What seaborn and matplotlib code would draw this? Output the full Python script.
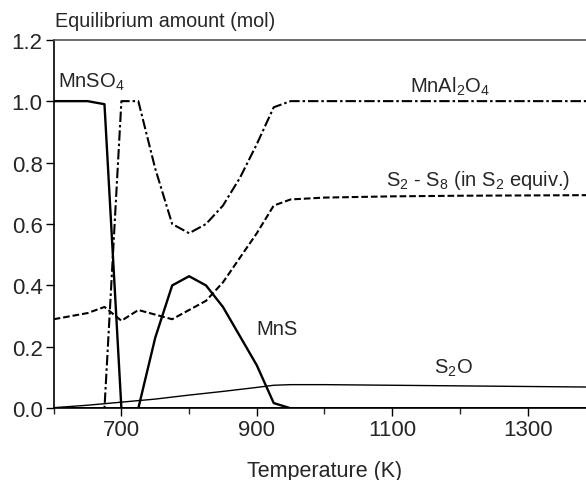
import matplotlib
matplotlib.use("Agg")
import matplotlib.pyplot as plt
import seaborn as sns
import pandas as pd
from matplotlib.ticker import MultipleLocator

# ---- data ----
T_mnso4 = [600, 650, 675, 700, 1400]
mnso4 = [1.0, 1.0, 0.99, 0.0, 0.0]

T_mnal2o4 = [600, 675, 700, 725, 750, 775, 800, 825, 850, 875, 900, 925, 950, 1000, 1100, 1200, 1300, 1400]
mnal2o4 = [0.0, 0.0, 1.0, 1.0, 0.78, 0.60, 0.57, 0.60, 0.66, 0.75, 0.86, 0.98, 1.0, 1.0, 1.0, 1.0, 1.0, 1.0]

T_s2 = [600, 625, 650, 675, 700, 725, 750, 775, 800, 825, 850, 875, 900, 925, 950, 1000, 1100, 1200, 1300, 1400]
s2 = [0.29, 0.30, 0.31, 0.33, 0.285, 0.32, 0.305, 0.29, 0.32, 0.35, 0.41, 0.49, 0.57, 0.66, 0.68, 0.686, 0.69, 0.692, 0.693, 0.694]

T_mns = [600, 725, 750, 775, 800, 825, 850, 875, 900, 925, 950, 1400]
mns = [0.0, 0.0, 0.23, 0.40, 0.43, 0.40, 0.33, 0.235, 0.14, 0.017, 0.0, 0.0]

T_s2o = [600, 650, 700, 750, 800, 850, 900, 925, 950, 1000, 1100, 1200, 1300, 1400]
s2o = [0.002, 0.01, 0.02, 0.03, 0.043, 0.055, 0.068, 0.075, 0.077, 0.077, 0.075, 0.073, 0.071, 0.069]

x_major = [700, 900, 1100, 1300]
y_ticks = [0.0, 0.2, 0.4, 0.6, 0.8, 1.0, 1.2]

sns.set_style("ticks")
plt.rcParams['font.family'] = ['Liberation Sans', 'DejaVu Sans']
plt.rcParams['mathtext.fontset'] = 'custom'
plt.rcParams['mathtext.rm'] = 'Liberation Sans'

fig = plt.figure(figsize=(5.86, 4.81), dpi=100)
W, H = 586, 481
x0, x1 = 53.7, 53.7 + 800 * 0.677
ytop, ybot = 40.7, 409.3
ax = fig.add_axes([x0 / W, (H - ybot) / H, (x1 - x0) / W, (ybot - ytop) / H])

def draw(T, v, ls, lw):
    df = pd.DataFrame({"T": T, "v": v})
    sns.lineplot(data=df, x="T", y="v", ax=ax, color="black", linestyle=ls, linewidth=lw,
                 errorbar=None, sort=False)

draw(T_s2o, s2o, "-", 1.0)
draw(T_mns, mns, "-", 1.7)
draw(T_s2, s2, (0, (3.2, 1.4)), 1.5)
draw(T_mnal2o4, mnal2o4, (0, (5, 1.4, 1.2, 1.4)), 1.5)
draw(T_mnso4, mnso4, "-", 1.7)

ax.set_xlim(600, 1400)
ax.set_ylim(0, 1.2)
ax.set_xticks(x_major)
ax.xaxis.set_minor_locator(MultipleLocator(100))
ax.set_yticks(y_ticks)
ax.set_yticklabels([f"{t:.1f}" for t in y_ticks])
ax.tick_params(axis="both", which="major", labelsize=16, length=6, width=1, color="black", pad=2)
ax.tick_params(axis="x", which="minor", length=4, width=1)
ax.set_xlabel("Temperature (K)", fontsize=15.5, labelpad=14)
ax.set_ylabel("")
for s in ["left", "bottom"]:
    ax.spines[s].set_color("black")
    ax.spines[s].set_linewidth(1.2)
ax.spines["top"].set_color("#555555")
ax.spines["top"].set_linewidth(1.2)
ax.spines["right"].set_visible(False)

fig.text(55 / W, (H - 27) / H, "Equilibrium amount (mol)", fontsize=14.2, ha="left", va="baseline")

lab = dict(fontsize=14.5, ha="left", va="baseline")
ax.text(606.8, 1.048, r"MnSO$\mathregular{_4}$", **lab)
ax.text(1127, 1.031, r"MnAl$\mathregular{_2}$O$\mathregular{_4}$", **lab)
ax.text(1091, 0.726, r"S$\mathregular{_2}$ - S$\mathregular{_8}$ (in S$\mathregular{_2}$ equiv.)", **lab)
ax.text(900, 0.242, "MnS", **lab)
ax.text(1162, 0.117, r"S$\mathregular{_2}$O", **lab)

fig.savefig("out.png", dpi=100)
